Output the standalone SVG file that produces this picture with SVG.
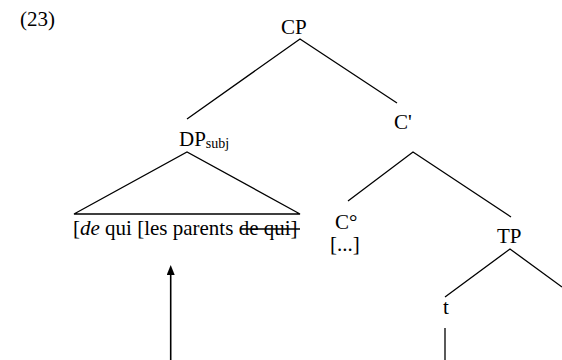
<svg xmlns="http://www.w3.org/2000/svg" width="562" height="360" viewBox="0 0 562 360">
  <style>
    text { font-family: "Times New Roman", "Liberation Serif", Times, serif; font-size: 21px; fill: #000; }
    .sub { font-size: 14px; }
    .edge { stroke: #000; stroke-width: 1.3; fill: none; }
  </style>
  <defs>
    <marker id="head" markerWidth="10" markerHeight="8" refX="0" refY="4" orient="auto" markerUnits="userSpaceOnUse">
      <path d="M0,0 L10,4 L0,8 Z" fill="#000"/>
    </marker>
  </defs>
  <rect width="562" height="360" fill="#fff"/>

  <text x="20" y="26">(23)</text>

  <g id="connectors">
    <path class="edge" d="M187,119 L300,39 L397,103"/>
    <path class="edge" d="M74,214 L187,152 L300,214 Z"/>
    <path class="edge" d="M348,201 L413,152 L511,217"/>
    <path class="edge" d="M445,297 L510,249 L562,287"/>
    <path class="edge" d="M445,328 L445,360"/>
    <line x1="170.7" y1="360" x2="170.7" y2="275" stroke="#000" stroke-width="1.6" marker-end="url(#head)"/>
  </g>

  <g id="cp"><text x="281" y="33.5">CP</text></g>
  <g id="dp"><text x="179" y="145.7">DP<tspan class="sub" dy="2.6">subj</tspan></text></g>
  <g id="cbar"><text x="394" y="129.3">C'</text></g>
  <g id="dp-content">
    <text x="73" y="235">[<tspan font-style="italic">de</tspan> qui [les parents de qui]</text>
    <line x1="240" y1="229" x2="300" y2="229" stroke="#000" stroke-width="1.3"/>
  </g>
  <g id="chead">
    <text x="335" y="229.3">C°</text>
    <text x="330" y="251">[...]</text>
  </g>
  <g id="tp"><text x="497" y="243">TP</text></g>
  <g id="trace"><text x="443" y="314">t</text></g>
</svg>
